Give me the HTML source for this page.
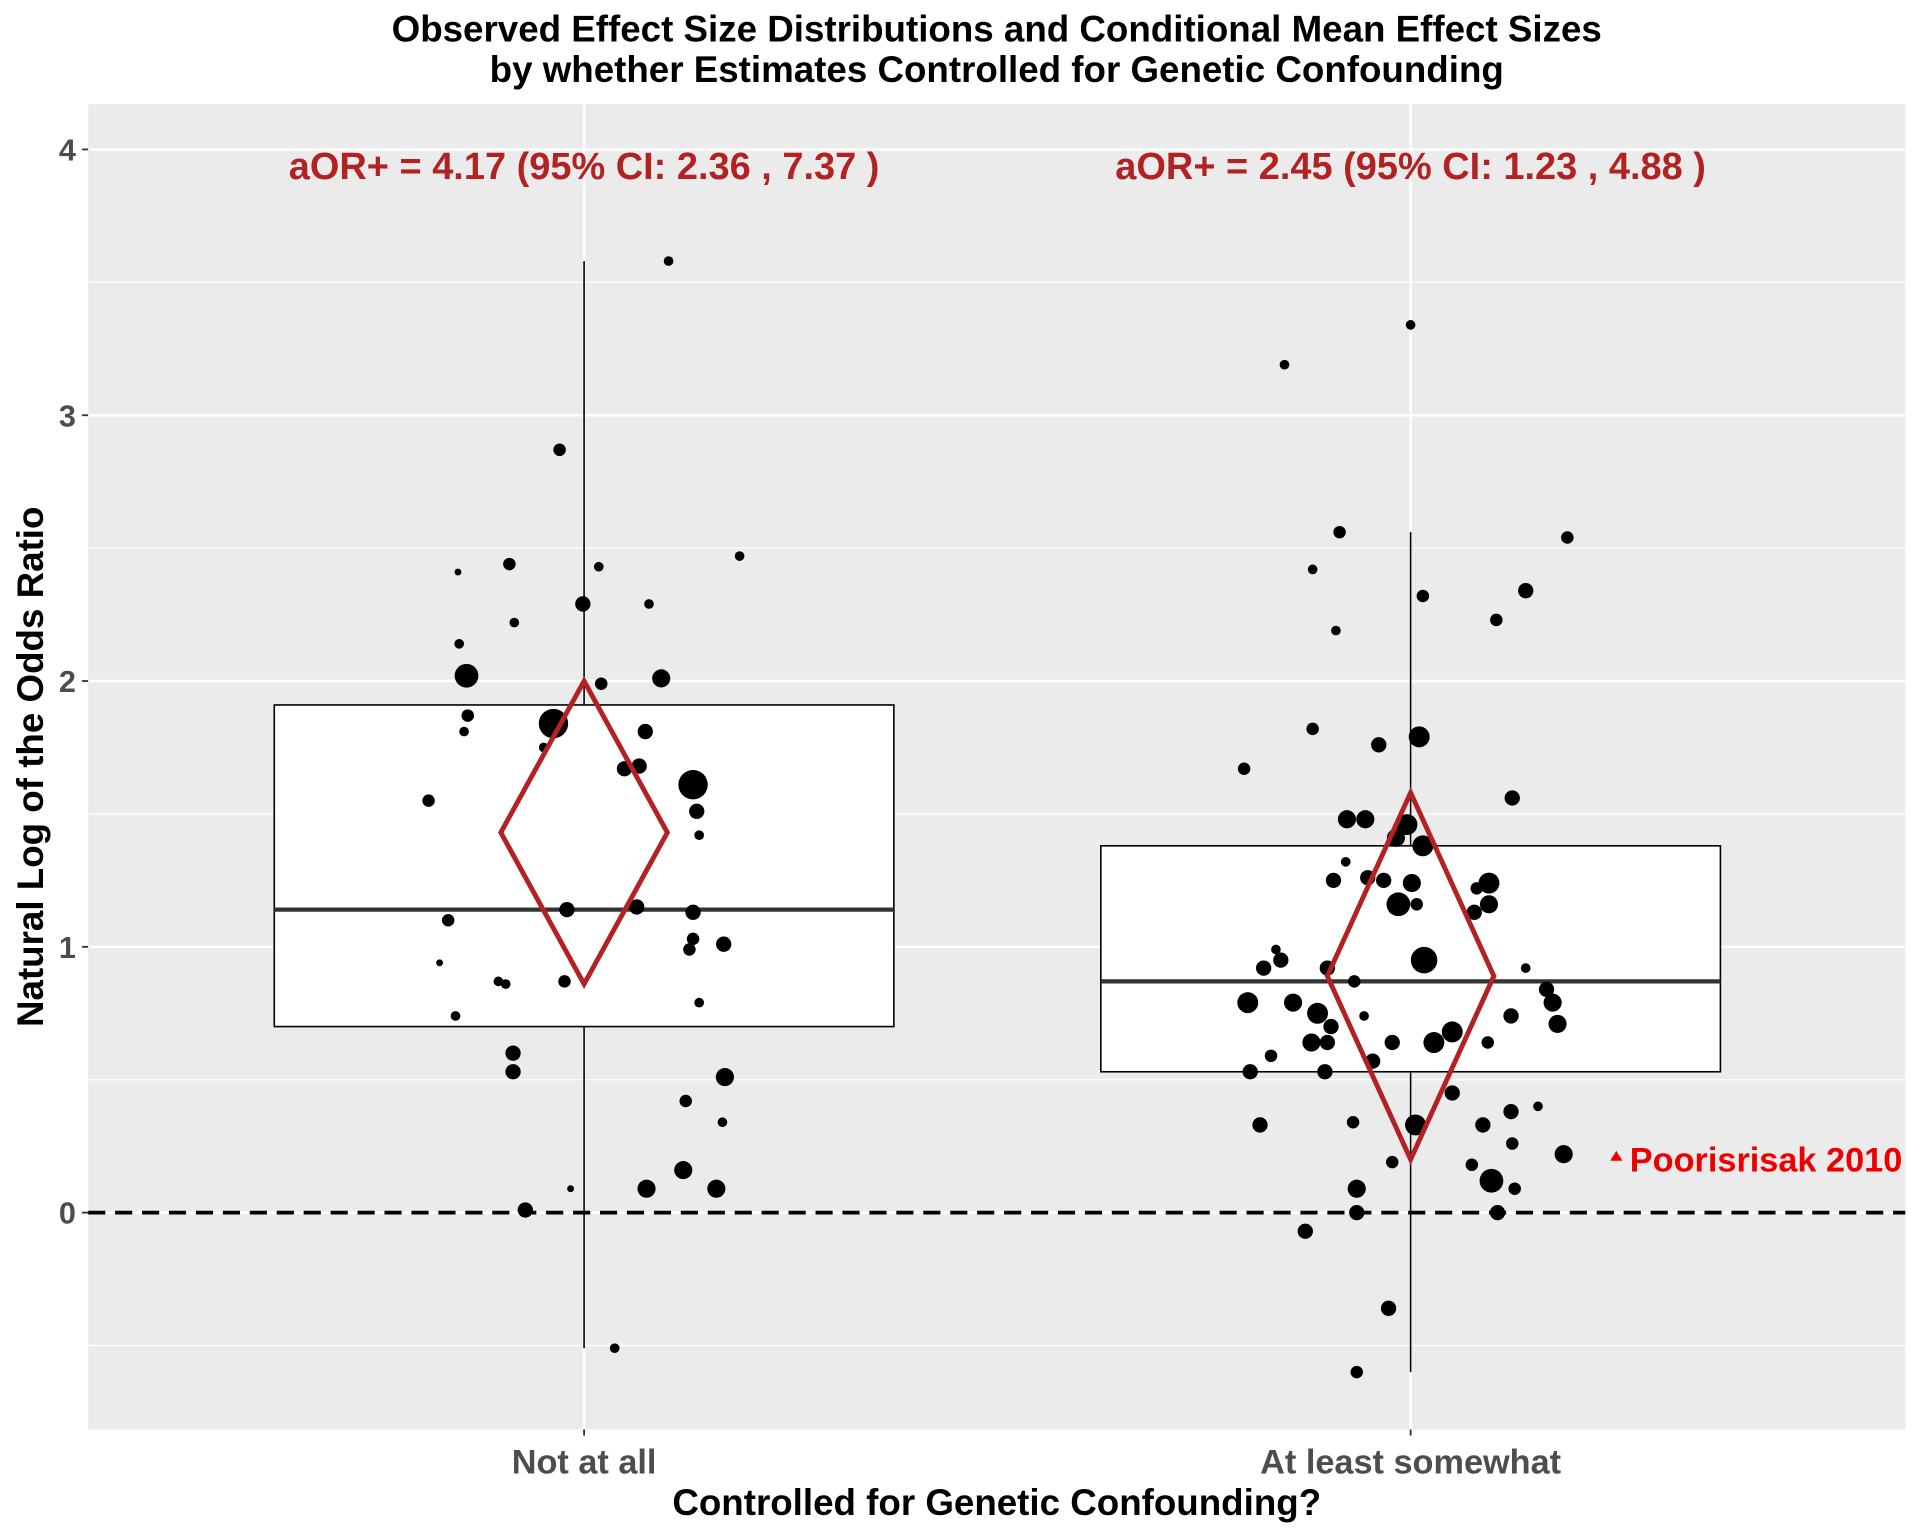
<!DOCTYPE html>
<html><head><meta charset="utf-8"><style>
html,body{margin:0;padding:0;background:#fff;}
svg{display:block;font-family:"Liberation Sans",Arial,sans-serif;}
</style></head><body>
<svg id="chart" width="1920" height="1536" viewBox="0 0 1568 1254" preserveAspectRatio="none" xmlns="http://www.w3.org/2000/svg">
<rect x="0" y="0" width="1568" height="1254" fill="#fff"/>
<text x="814" y="34" text-anchor="middle" font-size="30" font-weight="bold">Observed Effect Size Distributions and Conditional Mean Effect Sizes</text>
<text x="814" y="67" text-anchor="middle" font-size="30" font-weight="bold">by whether Estimates Controlled for Genetic Confounding</text>
<rect x="72" y="85" width="1484" height="1082" fill="#ebebeb"/>
<g id="grid"></g><g id="boxes"></g><g id="pts"></g><g id="diamonds"></g><g id="axes"></g>
<text x="814" y="1237" text-anchor="middle" font-size="30" font-weight="bold">Controlled for Genetic Confounding?</text>
<text transform="translate(35,626) rotate(-90)" text-anchor="middle" font-size="30" font-weight="bold">Natural Log of the Odds Ratio</text>
</svg>
<script>
const categories=["Not at all","At least somewhat"];
const yTicks=[0,1,2,3,4];
const minorTicks=[-0.5,0.5,1.5,2.5,3.5];
const boxQ1=[0.70,0.53], boxMedian=[1.14,0.87], boxQ3=[1.91,1.38];
const whiskLow=[-0.51,-0.60], whiskHigh=[3.58,2.56];
const meanEst=[1.43,0.89], ciLow=[0.86,0.20], ciHigh=[2.00,1.58];
const aorLabels=["aOR+ = 4.17 (95% CI: 2.36 , 7.37 )","aOR+ = 2.45 (95% CI: 1.23 , 4.88 )"];
const g1x=[546,457,374,416,489,604,420,476,530,375,381,491,540,382,379,452,444,527,510,522,566,350,569,571,366,463,520,566,566,563,591,359,407,413,461,571,372,419,419,592,560,590,466,528,558,585,429,502];
const g1y=[3.58,2.87,2.41,2.44,2.43,2.47,2.22,2.29,2.29,2.14,2.02,1.99,2.01,1.87,1.81,1.84,1.75,1.81,1.67,1.68,1.61,1.55,1.51,1.42,1.10,1.14,1.15,1.13,1.03,0.99,1.01,0.94,0.87,0.86,0.87,0.79,0.74,0.60,0.53,0.51,0.42,0.34,0.09,0.09,0.16,0.09,0.01,-0.51];
const g1r=[3,4,2,4,3,3,3,5,3,3,8,4,6,4,3,10,3,5,5,5,10,4,5,3,4,5,5,5,4,4,5,2,3,3,4,3,3,5,5,6,4,3,2,6,6,6,5,3];
const g2x=[1152,1049,1094,1072,1280,1162,1246,1091,1222,1072,1126,1159,1016,1235,1100,1115,1149,1140,1162,1099,1089,1117,1130,1153,1216,1206,1142,1157,1216,1204,1042,1046,1163,1032,1084,1246,1106,1263,1019,1056,1268,1076,1114,1234,1272,1087,1186,1071,1084,1137,1171,1215,1038,1121,1021,1082,1186,1029,1105,1156,1211,1234,1256,1235,1137,1202,1277,1218,1108,1237,1108,1223,1066,1134,1108];
const g2y=[3.34,3.19,2.56,2.42,2.54,2.32,2.34,2.19,2.23,1.82,1.76,1.79,1.67,1.56,1.48,1.48,1.46,1.41,1.38,1.32,1.25,1.26,1.25,1.24,1.24,1.22,1.16,1.16,1.16,1.13,0.99,0.95,0.95,0.92,0.92,0.92,0.87,0.84,0.79,0.79,0.79,0.75,0.74,0.74,0.71,0.70,0.68,0.64,0.64,0.64,0.64,0.64,0.59,0.57,0.53,0.53,0.45,0.33,0.34,0.33,0.33,0.38,0.40,0.26,0.19,0.18,0.22,0.12,0.09,0.09,0.00,0.00,-0.07,-0.36,-0.60];
const g2r=[3,3,4,3,4,4,5,3,4,4,5,7,4,5,6,6,7,6,7,3,5,5,5,6,7,4,8,4,6,5,3,5,9,5,5,3,4,5,7,6,6,7,3,5,6,5,7,6,5,5,7,4,4,5,5,5,5,5,4,7,5,5,3,4,4,4,6,8,6,4,5,5,5,5,4];
const outlierLabel="Poorisrisak 2010", outlierVal=0.20;

const NS="http://www.w3.org/2000/svg";
const X0=72,X1=1556;
const y=v=>990-217*v;
const xc=i=>477+675*i;
function mk(parent,tag,attrs){const e=document.createElementNS(NS,tag);for(const k in attrs)e.setAttribute(k,attrs[k]);document.getElementById(parent).appendChild(e);return e;}

minorTicks.forEach(v=>{const e=mk('grid','line',{x1:X0,x2:X1,y1:y(v),y2:y(v),stroke:'#fff','stroke-width':1});

});
yTicks.forEach(v=>{const e=mk('grid','line',{x1:X0,x2:X1,y1:y(v),y2:y(v),stroke:'#fff','stroke-width':2});


const t=mk('axes','line',{x1:X0-5,x2:X0,y1:y(v),y2:y(v),stroke:'#333','stroke-width':1.5});


const l=mk('axes','text',{x:X0-10,y:y(v)+9,'text-anchor':'end','font-size':25,'font-weight':'bold',fill:'#4d4d4d'});l.textContent=v;

});
categories.forEach((c,i)=>{const e=mk('grid','line',{x1:xc(i),x2:xc(i),y1:85,y2:1167,stroke:'#fff','stroke-width':2});


const t=mk('axes','line',{x1:xc(i),x2:xc(i),y1:1167,y2:1172,stroke:'#333','stroke-width':1.5});


const l=mk('axes','text',{x:xc(i),y:1203,'text-anchor':'middle','font-size':28,'font-weight':'bold',fill:'#4d4d4d'});l.textContent=c;


const w=mk('boxes','line',{x1:xc(i),x2:xc(i),y1:y(whiskHigh[i]),y2:y(whiskLow[i]),stroke:'#000','stroke-width':1.3});


const b=mk('boxes','rect',{x:xc(i)-253,width:506,y:y(boxQ3[i]),height:y(boxQ1[i])-y(boxQ3[i]),fill:'#fff',stroke:'#000','stroke-width':1.3});


const m=mk('boxes','line',{x1:xc(i)-253,x2:xc(i)+253,y1:y(boxMedian[i]),y2:y(boxMedian[i]),stroke:'#333','stroke-width':3.5});


const d=mk('diamonds','polygon',{points:`${xc(i)},${y(ciHigh[i])} ${xc(i)+68},${y(meanEst[i])} ${xc(i)},${y(ciLow[i])} ${xc(i)-68},${y(meanEst[i])}`,fill:'none',stroke:'#b22222','stroke-width':4});


const a=mk('diamonds','text',{x:xc(i),y:146,'text-anchor':'middle','font-size':31,'font-weight':'bold',fill:'#b22222'});a.textContent=aorLabels[i];


});
const z=mk('diamonds','line',{x1:X0,x2:X1,y1:y(0),y2:y(0),stroke:'#000','stroke-width':3,'stroke-dasharray':'14 8'});


[[g1x,g1y,g1r,0],[g2x,g2y,g2r,1]].forEach(([xs,ys,rs,g])=>{
 ys.forEach((v,k)=>{const jit=(xs[k]-xc(g))/675;
  const c=mk('pts','circle',{cx:xc(g)+jit*675,cy:y(v),r:rs[k]*1.15+0.5,fill:'#000'});
  
  });
});
const tri=mk('diamonds','polygon',{points:`1320,${y(outlierVal)-7} 1325,${y(outlierVal)+1} 1315,${y(outlierVal)+1}`,fill:'#ee0000'});


const ol=mk('diamonds','text',{x:1331,y:y(outlierVal)+10,'font-size':28,'font-weight':'bold',fill:'#ee0000'});ol.textContent=outlierLabel;


</script>
</body></html>
